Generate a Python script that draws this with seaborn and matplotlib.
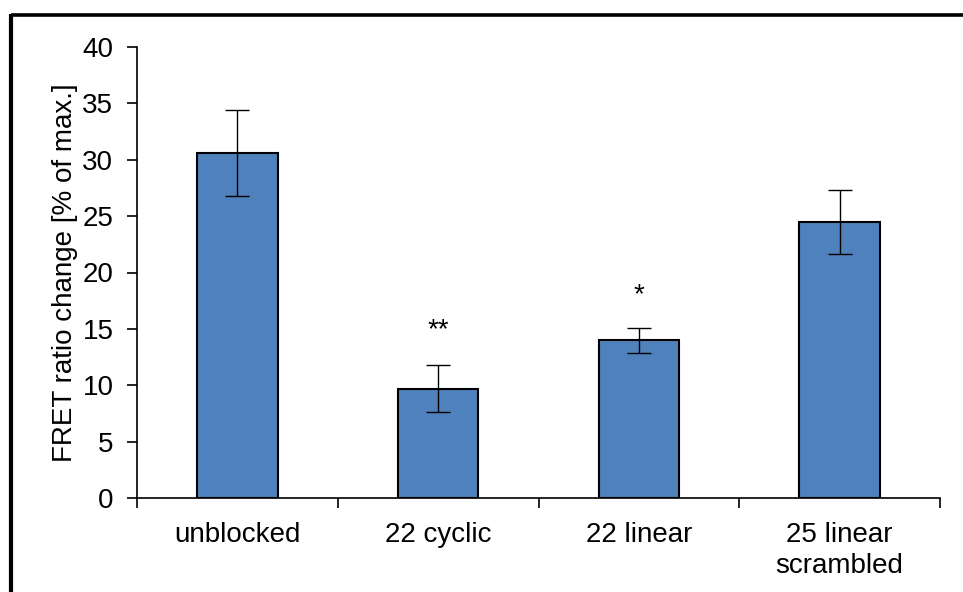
import matplotlib
matplotlib.use("Agg")
import matplotlib.pyplot as plt
from matplotlib.lines import Line2D
import seaborn as sns
import numpy as np

# Data
categories = ["unblocked", "22 cyclic", "22 linear", "25 linear\nscrambled"]
values = [30.6, 9.7, 14.0, 24.45]
errors = [3.8, 2.1, 1.1, 2.85]
stars = ["", "**", "*", ""]
star_heights = [0, 14.3, 17.4, 0]
yticks = [0, 5, 10, 15, 20, 25, 30, 35, 40]

sns.set_theme(style="white")
plt.rcParams["font.family"] = ["Liberation Sans", "DejaVu Sans"]

FS = 20
BAR_COLOR = "#4F81BD"

fig = plt.figure(figsize=(9.63, 5.92), dpi=100)
fig.patch.set_facecolor("white")
ax = fig.add_axes([137 / 963, 1 - 498 / 592, 803 / 963, 451 / 592])

sns.barplot(x=categories, y=values, color=BAR_COLOR, width=0.4,
            edgecolor="black", linewidth=1.5, errorbar=None,
            saturation=1, ax=ax)

xpos = np.arange(len(categories))
ax.errorbar(xpos, values, yerr=errors, fmt="none", ecolor="black",
            elinewidth=1.0, capsize=8.6, capthick=1.0, zorder=5)

for x, s, h in zip(xpos, stars, star_heights):
    if s:
        ax.text(x, h, s, ha="center", va="baseline", fontsize=FS, color="black")

ax.set_xlim(-0.5, len(categories) - 0.5)
ax.set_ylim(0, 40)
ax.set_yticks(yticks)
ax.set_yticklabels([str(t) for t in yticks])

# category labels at centres, tick marks on the boundaries
ax.set_xticks(xpos)
ax.set_xticklabels(categories, linespacing=1.25)
ax.set_xticks(np.arange(-0.5, len(categories), 1.0), minor=True)
ax.tick_params(axis="x", which="major", length=0, pad=17, labelsize=FS, colors="black")
ax.tick_params(axis="x", which="minor", length=7, width=1.2, direction="out",
               color="black", bottom=True)
ax.tick_params(axis="y", which="major", length=7, width=1.2, direction="out",
               pad=10, labelsize=FS, colors="black", left=True)

ax.set_xlabel("")
ax.set_ylabel("FRET ratio change [% of max.]", fontsize=FS, labelpad=3, color="black")

for side in ["top", "right"]:
    ax.spines[side].set_visible(False)
for side in ["left", "bottom"]:
    ax.spines[side].set_color("black")
    ax.spines[side].set_linewidth(1.2)

# outer frame lines along the top and left of the figure
fig.add_artist(Line2D([11 / 963, 1.0], [1 - 15 / 592, 1 - 15 / 592],
                      transform=fig.transFigure, color="black", linewidth=2.6,
                      solid_capstyle="butt"))
fig.add_artist(Line2D([11 / 963, 11 / 963], [0.0, 1 - 13.5 / 592],
                      transform=fig.transFigure, color="black", linewidth=3.0,
                      solid_capstyle="butt"))

fig.savefig("out.png", dpi=100, facecolor="white")
